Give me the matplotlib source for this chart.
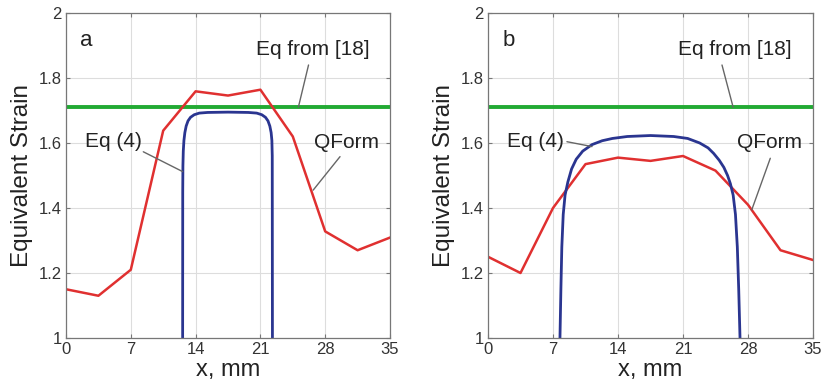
import matplotlib
matplotlib.use("Agg")
import matplotlib.pyplot as plt

plt.rcParams['font.family'] = ['Liberation Sans', 'DejaVu Sans']

# ---- data ----
qform_x = [0, 3.5, 7, 10.5, 14, 17.5, 21, 24.5, 28, 31.5, 35]
qform_a = [1.15, 1.13, 1.21, 1.638, 1.759, 1.746, 1.764, 1.62, 1.328, 1.27, 1.309]
qform_b = [1.25, 1.20, 1.40, 1.535, 1.555, 1.545, 1.56, 1.515, 1.41, 1.27, 1.24]

eq4a_x = [12.60, 12.61, 12.63, 12.67, 12.74, 12.84, 12.98, 13.18, 13.45, 13.85, 14.4, 15.3,
          17.5, 19.7, 20.6, 21.15, 21.55, 21.82, 22.02, 22.16, 22.24, 22.28, 22.30]
eq4a_y = [1.00, 1.45, 1.53, 1.575, 1.608, 1.632, 1.652, 1.668, 1.679, 1.687, 1.692, 1.694,
          1.695, 1.694, 1.692, 1.687, 1.679, 1.668, 1.652, 1.632, 1.608, 1.56, 1.00]

eq4b_x = [7.75, 7.85, 7.95, 8.1, 8.3, 8.6, 9.0, 9.5, 10.2, 11.2, 12.3, 13.4, 15.0,
          17.5, 20.0, 21.5, 22.8, 23.7, 24.3, 24.9, 25.4, 25.8, 26.1, 26.4, 26.65, 26.85, 27.0, 27.14]
eq4b_y = [1.00, 1.15, 1.28, 1.38, 1.44, 1.48, 1.52, 1.55, 1.575, 1.595, 1.607, 1.614, 1.62,
          1.623, 1.62, 1.614, 1.60, 1.585, 1.568, 1.547, 1.525, 1.50, 1.475, 1.44, 1.38, 1.28, 1.15, 1.00]

eq18_a = 1.71
eq18_b = 1.71

xticks = [0, 7, 14, 21, 28, 35]
yticks = [1, 1.2, 1.4, 1.6, 1.8, 2]
ytick_labels = ['1', '1.2', '1.4', '1.6', '1.8', '2']

fig = plt.figure(figsize=(8.24, 3.87), dpi=100)
ax1 = fig.add_axes([66/824, 49/387, 324/824, 325/387])
ax2 = fig.add_axes([488/824, 49/387, 325/824, 325/387])

def style(ax):
    ax.set_xlim(0, 35)
    ax.set_ylim(1, 2)
    ax.set_xticks(xticks)
    ax.set_yticks(yticks)
    ax.set_yticklabels(ytick_labels)
    ax.grid(True, color='#dddddd', linewidth=0.8)
    ax.set_axisbelow(True)
    ax.tick_params(direction='in', length=3, width=0.8, colors='#777777',
                   labelcolor='#333333', labelsize=12, pad=3,
                   top=True, right=True)
    for s in ax.spines.values():
        s.set_color('#777777')
        s.set_linewidth(0.9)
    ax.set_xlabel('x, mm', fontsize=17, color='#222222', labelpad=1)
    ax.set_ylabel('Equivalent Strain', fontsize=17.5, color='#222222', labelpad=4)

lead_kw = dict(arrowstyle='-', color='#666666', lw=1.0, shrinkA=0, shrinkB=0)

# Panel a
ax1.axhline(eq18_a, color='#22aa33', lw=2.8)
ax1.plot(qform_x, qform_a, color='#e03030', lw=1.8)
ax1.plot(eq4a_x, eq4a_y, color='#2a3590', lw=2.0)
style(ax1)
ax1.text(2.2, 1.914, 'a', fontsize=16, ha='center', va='center', color='#222222')
ax1.text(26.7, 1.889, 'Eq from [18]', fontsize=15, ha='center', va='center', color='#222222')
ax1.annotate('', xy=(25.1, 1.71), xytext=(26.2, 1.84), arrowprops=lead_kw)
ax1.text(5.1, 1.606, 'Eq (4)', fontsize=15, ha='center', va='center', color='#222222')
ax1.annotate('', xy=(12.6, 1.512), xytext=(8.35, 1.573), arrowprops=lead_kw)
ax1.text(30.3, 1.60, 'QForm', fontsize=15, ha='center', va='center', color='#222222')
ax1.annotate('', xy=(26.7, 1.455), xytext=(29.6, 1.558), arrowprops=lead_kw)

# Panel b
ax2.axhline(eq18_b, color='#22aa33', lw=2.8)
ax2.plot(qform_x, qform_b, color='#e03030', lw=1.8)
ax2.plot(eq4b_x, eq4b_y, color='#2a3590', lw=2.0)
style(ax2)
ax2.text(2.2, 1.914, 'b', fontsize=16, ha='center', va='center', color='#222222')
ax2.text(26.6, 1.889, 'Eq from [18]', fontsize=15, ha='center', va='center', color='#222222')
ax2.annotate('', xy=(26.4, 1.71), xytext=(25.2, 1.84), arrowprops=lead_kw)
ax2.text(5.1, 1.606, 'Eq (4)', fontsize=15, ha='center', va='center', color='#222222')
ax2.annotate('', xy=(11.2, 1.589), xytext=(8.5, 1.604), arrowprops=lead_kw)
ax2.text(30.3, 1.60, 'QForm', fontsize=15, ha='center', va='center', color='#222222')
ax2.annotate('', xy=(28.4, 1.394), xytext=(30.4, 1.553), arrowprops=lead_kw)

fig.savefig('out.png', dpi=100, facecolor='white')
